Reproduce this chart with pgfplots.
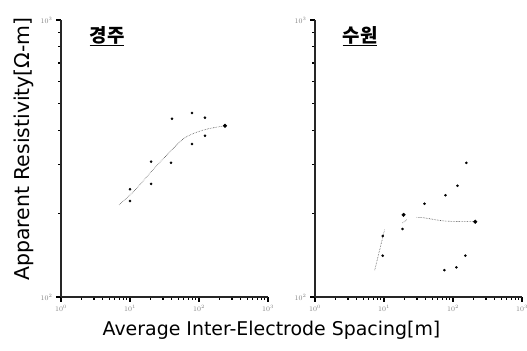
\documentclass[border=0pt]{standalone}
\usepackage{pgfplots}
\pgfplotsset{compat=1.18}
\usepackage{fontspec}
\setmainfont{DejaVu Sans}
\newfontfamily\cjk{Noto Sans CJK KR}
\pgfplotsset{
 every axis/.append style={
  scale only axis, width=207bp, height=277bp,
  xmin=1,xmax=1000,ymin=100,ymax=1000,
  axis x line*=bottom, axis y line*=left,
  axis line style={-, line width=2pt, black!85},
  xtick={1,10,100,1000}, ytick={100,1000},
  minor xtick={2,3,4,5,6,7,8,9,20,30,40,50,60,70,80,90,200,300,400,500,600,700,800,900},
  minor ytick={200,300,400,500,600,700,800,900},
  tick align=outside,
  major tick style={black, line width=1.4pt},
  minor tick style={black, line width=1.2pt},
  major tick length=5bp, minor tick length=3bp,
  tick label style={font=\fontsize{7}{8}\selectfont, text=gray},
  clip=false,
 }}
\begin{document}
\begin{tikzpicture}
\path[use as bounding box] (-61bp,-54bp) rectangle (466bp,297bp);
% Left panel
\begin{loglogaxis}
\addplot[densely dotted, line width=0.6pt, gray!60!black, smooth] coordinates {
(6.93,215)(11.8,243)(20.2,283)(34.4,326)(62.7,376)(122,402)(238,415)};
\addplot[only marks, mark=*, mark size=1.1pt, black] coordinates {
(10,245)(10,222)(20.2,308)(20.2,256)(39.3,305)(40.6,440)(79.2,462)(122,444)(122,382)(79.2,357)};
\addplot[only marks, mark=*, mark size=1.8pt, black] coordinates {(238,415)};
\end{loglogaxis}
% Right panel
\begin{loglogaxis}[at={(254bp,0bp)}]
\addplot[densely dotted, line width=0.6pt, gray!60!black] coordinates {(7.34,125)(10.2,175)};
\addplot[densely dotted, line width=0.6pt, gray!60!black] coordinates {(18.6,185)(21.3,190)};
\addplot[densely dotted, line width=0.6pt, gray!60!black, smooth] coordinates {(29.6,194)(38.7,193)(77.6,188)(210,187)};
\addplot[only marks, mark=*, mark size=1.1pt, black] coordinates {
(156,305)(116,252)(77.6,233)(38.7,217)(18.6,176)(9.58,166)(9.58,141)(151,141)(112,128)(75.2,125)};
\addplot[only marks, mark=*, mark size=1.8pt, black] coordinates {(19.2,198)(210,187)};
\end{loglogaxis}
\node[font=\cjk\fontsize{19}{21}\selectfont\bfseries] at (46bp,261bp) {\underline{경주}};
\node[font=\cjk\fontsize{19}{21}\selectfont\bfseries] at (299bp,261bp) {\underline{수원}};
\node[rotate=90, font=\fontsize{20.5}{23}\selectfont] at (-37bp,148bp) {Apparent Resistivity[Ω-m]};
\node[font=\fontsize{19}{21}\selectfont] at (210.5bp,-33bp) {Average Inter-Electrode Spacing[m]};
\end{tikzpicture}
\end{document}
